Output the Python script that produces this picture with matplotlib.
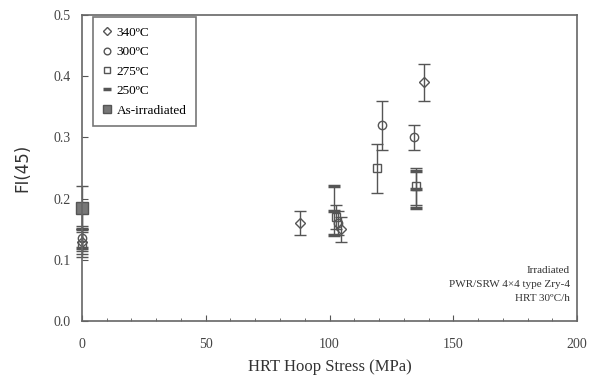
import matplotlib.pyplot as plt
from matplotlib.ticker import MultipleLocator
from matplotlib.lines import Line2D

plt.rcParams['font.family'] = ['Liberation Serif', 'DejaVu Serif']

# 340 C (diamond)
x340 = [0, 88, 104.5, 138]
y340 = [0.13, 0.16, 0.15, 0.39]
e340 = [0.02, 0.02, 0.02, 0.03]
# 300 C (circle)
x300 = [0, 103.5, 121, 134]
y300 = [0.135, 0.16, 0.32, 0.30]
e300 = [0.02, 0.02, 0.04, 0.02]
# 275 C (square)
x275 = [0, 102.5, 119, 135]
y275 = [0.125, 0.17, 0.25, 0.22]
e275 = [0.02, 0.02, 0.04, 0.03]
# 250 C (dash)
x250 = [0, 102, 135]
y250 = [0.15, 0.18, 0.215]
e250 = [0.03, 0.04, 0.03]
# as-irradiated
xas = [0]
yas = [0.185]
eas = [0.035]

labels = ['340ºC', '300ºC', '275ºC', '250ºC', 'As-irradiated']

fig = plt.figure(figsize=(5.89, 3.85), dpi=100)
ax = fig.add_axes([0.139, 0.166, 0.841, 0.795])

c = '#555555'
kw = dict(color=c, ecolor=c, capsize=4, elinewidth=1, linestyle='none')
styles = [dict(marker='D', ms=5, mfc='none'),
          dict(marker='o', ms=6, mfc='none'),
          dict(marker='s', ms=6, mfc='none'),
          dict(marker='_', ms=8, mew=2.5),
          dict(marker='s', ms=8, mfc='#777777')]
series = [(x340, y340, e340), (x300, y300, e300), (x275, y275, e275),
          (x250, y250, e250), (xas, yas, eas)]
for (xs, ys, es), st in zip(series, styles):
    eb = ax.errorbar(xs, ys, yerr=es, **st, **kw)
    for art in eb.lines[0:1] + tuple(eb.lines[1]) + tuple(eb.lines[2]):
        art.set_clip_on(False)

ax.set_xlim(0, 200)
ax.set_ylim(0, 0.5)
ax.xaxis.set_major_locator(MultipleLocator(50))
ax.xaxis.set_minor_locator(MultipleLocator(10))
ax.yaxis.set_major_locator(MultipleLocator(0.1))
ax.yaxis.set_major_formatter(plt.FormatStrFormatter('%.1f'))
ax.tick_params(which='both', direction='in', colors=c, labelcolor='#444444', labelsize=10)
ax.tick_params(axis='x', pad=12)
ax.tick_params(axis='y', pad=8)
ax.tick_params(which='major', length=4)
ax.tick_params(which='minor', length=2)
for s in ax.spines.values():
    s.set_color('#666666')
    s.set_linewidth(1.2)

ax.set_xlabel('HRT Hoop Stress (MPa)', fontsize=12, color='#333333', labelpad=6)
ax.set_ylabel('FI(45)', fontsize=12, color='#333333', family='DejaVu Sans', labelpad=16)

handles = [Line2D([], [], color=c, linestyle='none', **st) for st in styles]
leg = ax.legend(handles, labels, loc='upper left', fontsize=9.5, frameon=True, fancybox=False,
                edgecolor=c, borderpad=0.7, labelspacing=0.55, markerscale=0.8,
                handlelength=0.8, handletextpad=0.3, borderaxespad=0,
                bbox_to_anchor=(0.022, 0.993))
leg.get_frame().set_linewidth(1.2)

ax.text(0.985, 0.06, 'Irradiated\nPWR/SRW 4×4 type Zry-4\nHRT 30ºC/h', transform=ax.transAxes,
        ha='right', va='bottom', fontsize=8, color='#333333', linespacing=1.7)

fig.savefig('out.png', dpi=100)
